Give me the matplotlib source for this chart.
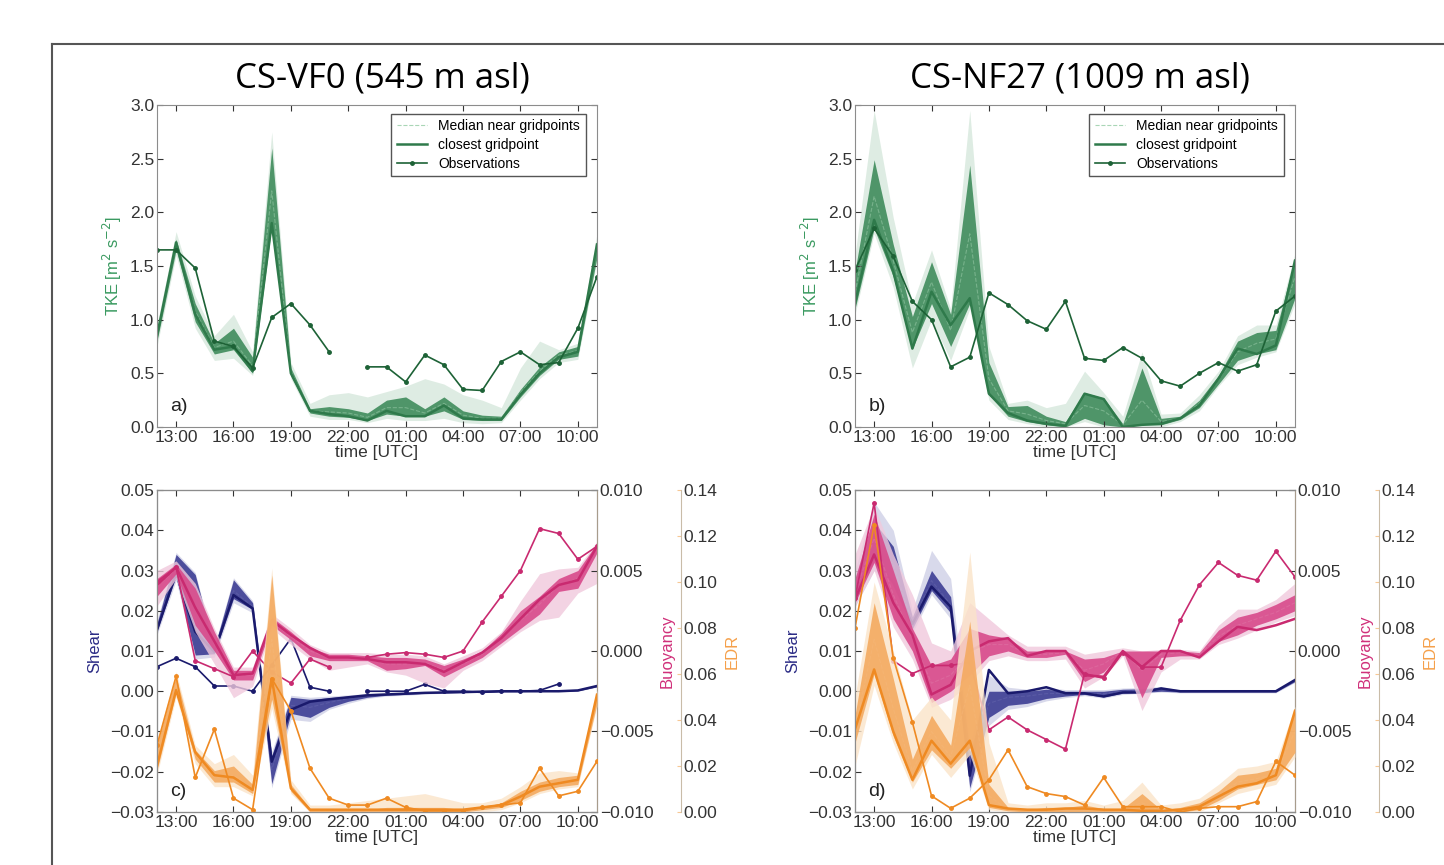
import numpy as np
import matplotlib
matplotlib.use('Agg')
import matplotlib.pyplot as plt
from matplotlib.lines import Line2D
from matplotlib.ticker import FuncFormatter

nan = np.nan
hours = np.arange(24)
tick_hours = [1, 4, 7, 10, 13, 16, 19, 22]
tick_labels = ['13:00', '16:00', '19:00', '22:00', '01:00', '04:00', '07:00', '10:00']

# ---- a) TKE at CS-VF0 ----
tke_a_obs = [1.65, 1.65, 1.48, 0.80, 0.75, 0.55, 1.02, 1.15, 0.95, 0.70, nan, 0.56,
             0.56, 0.42, 0.67, 0.58, 0.35, 0.34, 0.61, 0.70, 0.58, 0.60, 0.92, 1.40]
tke_a_close = [0.85, 1.72, 1.05, 0.72, 0.75, 0.52, 1.90, 0.50, 0.15, 0.12, 0.10, 0.06,
               0.15, 0.10, 0.10, 0.20, 0.08, 0.07, 0.07, 0.30, 0.50, 0.65, 0.70, 1.70]
tke_a_med = [0.85, 1.70, 1.08, 0.74, 0.80, 0.57, 2.20, 0.52, 0.15, 0.14, 0.13, 0.09,
             0.18, 0.18, 0.13, 0.22, 0.11, 0.08, 0.08, 0.32, 0.52, 0.67, 0.71, 1.68]
tke_a_qlo = [0.80, 1.65, 0.98, 0.68, 0.72, 0.50, 1.88, 0.48, 0.13, 0.10, 0.09, 0.06,
             0.12, 0.10, 0.10, 0.15, 0.07, 0.06, 0.06, 0.28, 0.48, 0.63, 0.66, 1.58]
tke_a_qhi = [0.90, 1.75, 1.15, 0.78, 0.92, 0.65, 2.60, 0.55, 0.17, 0.19, 0.17, 0.13,
             0.25, 0.28, 0.17, 0.28, 0.15, 0.11, 0.10, 0.35, 0.56, 0.70, 0.75, 1.75]
tke_a_rlo = [0.75, 1.60, 0.92, 0.62, 0.64, 0.48, 1.85, 0.45, 0.10, 0.07, 0.07, 0.04,
             0.08, 0.06, 0.06, 0.08, 0.04, 0.03, 0.04, 0.25, 0.45, 0.60, 0.63, 1.55]
tke_a_rhi = [0.95, 1.82, 1.22, 0.85, 1.05, 0.70, 2.75, 0.60, 0.22, 0.30, 0.32, 0.28,
             0.33, 0.38, 0.45, 0.40, 0.30, 0.25, 0.18, 0.55, 0.80, 0.72, 0.78, 1.80]

# ---- b) TKE at CS-NF27 ----
tke_b_obs = [1.46, 1.85, 1.59, 1.17, 1.00, 0.56, 0.65, 1.25, 1.14, 0.99, 0.91, 1.17,
             0.64, 0.62, 0.74, 0.64, 0.43, 0.38, 0.50, 0.60, 0.52, 0.58, 1.08, 1.22]
tke_b_close = [1.15, 1.93, 1.45, 0.73, 1.26, 0.95, 1.20, 0.31, 0.13, 0.06, 0.03, 0.01,
               0.31, 0.26, 0.00, 0.02, 0.03, 0.08, 0.20, 0.45, 0.73, 0.68, 0.76, 1.55]
tke_b_med = [1.25, 2.15, 1.55, 0.88, 1.35, 0.90, 1.80, 0.45, 0.15, 0.12, 0.06, 0.03,
             0.20, 0.15, 0.02, 0.25, 0.05, 0.08, 0.22, 0.44, 0.70, 0.78, 0.82, 1.40]
tke_b_qlo = [1.10, 1.85, 1.40, 0.73, 1.15, 0.75, 1.15, 0.30, 0.10, 0.05, 0.02, 0.00,
             0.08, 0.02, 0.00, 0.02, 0.02, 0.07, 0.18, 0.40, 0.62, 0.68, 0.72, 1.20]
tke_b_qhi = [1.45, 2.49, 1.70, 1.03, 1.54, 1.05, 2.44, 0.60, 0.19, 0.20, 0.10, 0.05,
             0.32, 0.27, 0.03, 0.55, 0.08, 0.10, 0.25, 0.48, 0.80, 0.88, 0.90, 1.57]
tke_b_rlo = [1.05, 1.80, 1.30, 0.55, 1.00, 0.62, 1.10, 0.25, 0.07, 0.03, 0.00, 0.00,
             0.05, 0.00, 0.00, 0.00, 0.00, 0.05, 0.15, 0.38, 0.58, 0.65, 0.70, 1.15]
tke_b_rhi = [1.60, 2.95, 1.95, 1.15, 1.65, 1.10, 2.95, 0.75, 0.22, 0.25, 0.18, 0.22,
             0.52, 0.32, 0.10, 0.70, 0.12, 0.13, 0.30, 0.52, 0.85, 0.95, 0.95, 1.62]

# ---- c) shear / buoyancy / EDR at CS-VF0 ----
sh_c_obs = [0.0061, 0.0082, 0.0061, 0.0013, 0.0013, 0.0000, 0.0065, 0.0131, 0.0010, 0.0000, nan, 0.0000,
            0.0000, 0.0000, 0.0017, 0.0000, 0.0000, -0.0003, 0.0000, 0.0000, 0.0002, 0.0018, nan, nan]
sh_c_close = [0.0152, 0.0293, 0.0148, 0.0098, 0.0239, 0.0206, -0.0175, -0.0046, -0.0026, -0.0020, -0.0015, -0.0010,
              -0.0008, -0.0006, -0.0004, -0.0003, -0.0002, -0.0001, 0.0000, 0.0000, 0.0000, 0.0000, 0.0002, 0.0013]
sh_c_med = [0.0158, 0.0310, 0.0180, 0.0100, 0.0250, 0.0210, -0.0195, -0.0035, -0.0040, -0.0028, -0.0018, -0.0011,
            -0.0008, -0.0006, -0.0004, -0.0003, -0.0002, -0.0001, 0.0000, 0.0000, 0.0000, 0.0001, 0.0002, 0.0013]
sh_c_qlo = [0.0150, 0.0285, 0.0090, 0.0093, 0.0230, 0.0203, -0.0230, -0.0055, -0.0065, -0.0040, -0.0025, -0.0015,
            -0.0010, -0.0008, -0.0005, -0.0004, -0.0003, -0.0002, -0.0001, -0.0001, 0.0000, 0.0000, 0.0001, 0.0011]
sh_c_qhi = [0.0168, 0.0340, 0.0290, 0.0108, 0.0277, 0.0220, -0.0160, -0.0015, -0.0020, -0.0016, -0.0012, -0.0008,
            -0.0006, -0.0004, -0.0003, -0.0002, -0.0001, 0.0000, 0.0001, 0.0001, 0.0001, 0.0002, 0.0003, 0.0015]
sh_c_rlo = [0.0140, 0.0275, 0.0080, 0.0085, 0.0220, 0.0195, -0.0240, -0.0070, -0.0075, -0.0045, -0.0030, -0.0018,
            -0.0012, -0.0010, -0.0007, -0.0005, -0.0004, -0.0003, -0.0002, -0.0002, -0.0001, -0.0001, 0.0000, 0.0010]
sh_c_rhi = [0.0175, 0.0345, 0.0295, 0.0112, 0.0282, 0.0225, -0.0150, -0.0010, -0.0015, -0.0012, -0.0009, -0.0006,
            -0.0004, -0.0003, -0.0002, -0.0001, 0.0000, 0.0001, 0.0002, 0.0002, 0.0002, 0.0003, 0.0004, 0.0016]

bu_c_obs = [0.0043, 0.0052, -0.0006, -0.0011, -0.0016, 0.0000, -0.0013, -0.0020, -0.0005, -0.0010, nan, -0.0004,
            -0.0002, -0.0001, -0.0002, -0.0004, 0.0000, 0.0018, 0.0034, 0.0050, 0.0076, 0.0073, 0.0057, 0.0065]
bu_c_close = [0.0041, 0.0052, 0.0027, 0.0006, -0.0015, -0.0014, 0.0019, 0.0010, 0.0002, -0.0004, -0.0004, -0.0005,
              -0.0007, -0.0007, -0.0008, -0.0013, -0.0007, -0.0001, 0.0008, 0.0020, 0.0032, 0.0041, 0.0044, 0.0065]
bu_c_med = [0.0040, 0.0051, 0.0028, 0.0006, -0.0015, -0.0015, 0.0018, 0.0009, 0.0000, -0.0004, -0.0004, -0.0005,
            -0.0008, -0.0008, -0.0007, -0.0012, -0.0008, -0.0002, 0.0008, 0.0019, 0.0029, 0.0041, 0.0045, 0.0064]
bu_c_qlo = [0.0034, 0.0048, 0.0016, 0.0000, -0.0018, -0.0018, 0.0016, 0.0007, -0.0003, -0.0006, -0.0006, -0.0006,
            -0.0012, -0.0011, -0.0009, -0.0016, -0.0010, -0.0004, 0.0005, 0.0014, 0.0023, 0.0037, 0.0039, 0.0061]
bu_c_qhi = [0.0045, 0.0054, 0.0039, 0.0012, -0.0012, -0.0012, 0.0021, 0.0012, 0.0002, -0.0002, -0.0002, -0.0003,
            -0.0004, -0.0004, -0.0005, -0.0009, -0.0005, 0.0000, 0.0011, 0.0025, 0.0034, 0.0045, 0.0050, 0.0067]
bu_c_rlo = [0.0028, 0.0045, 0.0012, -0.0008, -0.0029, -0.0022, 0.0014, 0.0004, -0.0005, -0.0012, -0.0010, -0.0008,
            -0.0013, -0.0015, -0.0020, -0.0023, -0.0012, -0.0006, 0.0003, 0.0012, 0.0019, 0.0021, 0.0036, 0.0042]
bu_c_rhi = [0.0050, 0.0056, 0.0042, 0.0014, -0.0010, -0.0010, 0.0023, 0.0014, 0.0004, -0.0001, -0.0001, -0.0001,
            -0.0002, -0.0002, -0.0003, -0.0008, -0.0003, 0.0002, 0.0012, 0.0031, 0.0048, 0.0051, 0.0052, 0.0068]

ed_c_obs = [0.029, 0.059, 0.015, 0.036, 0.006, 0.001, 0.058, 0.044, 0.019, 0.006, 0.003, 0.003,
            0.006, 0.002, 0.0005, 0.0005, 0.0005, 0.002, 0.003, 0.004, 0.019, 0.007, 0.009, 0.022]
ed_c_close = [0.020, 0.053, 0.026, 0.016, 0.015, 0.0096, 0.058, 0.0103, 0.001, 0.001, 0.001, 0.001,
              0.001, 0.001, 0.001, 0.001, 0.001, 0.002, 0.003, 0.0067, 0.011, 0.0125, 0.014, 0.051]
ed_c_med = [0.022, 0.055, 0.025, 0.015, 0.016, 0.010, 0.075, 0.010, 0.001, 0.0005, 0.0005, 0.0005,
            0.001, 0.001, 0.001, 0.001, 0.0005, 0.0015, 0.003, 0.007, 0.011, 0.013, 0.014, 0.050]
ed_c_qlo = [0.018, 0.052, 0.023, 0.013, 0.013, 0.008, 0.049, 0.009, 0.000, 0.000, 0.000, 0.000,
            0.000, 0.000, 0.000, 0.000, 0.000, 0.001, 0.002, 0.005, 0.009, 0.011, 0.012, 0.047]
ed_c_qhi = [0.029, 0.059, 0.027, 0.018, 0.020, 0.012, 0.103, 0.012, 0.0015, 0.001, 0.001, 0.001,
            0.002, 0.002, 0.002, 0.002, 0.001, 0.002, 0.004, 0.009, 0.013, 0.015, 0.016, 0.052]
ed_c_rlo = [0.016, 0.050, 0.021, 0.011, 0.011, 0.007, 0.045, 0.008, 0.000, 0.000, 0.000, 0.000,
            0.000, 0.000, 0.000, 0.000, 0.000, 0.000, 0.001, 0.004, 0.008, 0.010, 0.011, 0.046]
ed_c_rhi = [0.031, 0.061, 0.029, 0.021, 0.025, 0.016, 0.106, 0.014, 0.003, 0.003, 0.004, 0.005,
            0.006, 0.007, 0.008, 0.006, 0.004, 0.004, 0.006, 0.011, 0.017, 0.018, 0.017, 0.053]

# ---- d) shear / buoyancy / EDR at CS-NF27 ----
sh_d_close = [0.0240, 0.0330, 0.0270, 0.0167, 0.0260, 0.0210, -0.0210, 0.0053, -0.0005, 0.0000, 0.0010, -0.0005,
              -0.0005, -0.0013, -0.0003, -0.0003, 0.0007, 0.0000, 0.0000, 0.0000, 0.0000, 0.0000, 0.0000, 0.0028]
sh_d_med = [0.0250, 0.0380, 0.0315, 0.0170, 0.0275, 0.0215, -0.0180, -0.0030, -0.0015, -0.0012, -0.0006, -0.0005,
            -0.0004, -0.0006, 0.0000, 0.0001, 0.0004, 0.0000, 0.0000, 0.0000, 0.0000, 0.0000, 0.0000, 0.0026]
sh_d_qlo = [0.0220, 0.0330, 0.0270, 0.0155, 0.0250, 0.0195, -0.0240, -0.0065, -0.0035, -0.0030, -0.0018, -0.0012,
            -0.0008, -0.0014, -0.0005, -0.0003, 0.0000, -0.0002, -0.0002, -0.0002, -0.0002, -0.0002, -0.0002, 0.0024]
sh_d_qhi = [0.0280, 0.0420, 0.0360, 0.0185, 0.0300, 0.0235, -0.0150, 0.0000, 0.0000, 0.0000, 0.0005, 0.0000,
            0.0000, 0.0000, 0.0005, 0.0006, 0.0010, 0.0001, 0.0001, 0.0001, 0.0001, 0.0001, 0.0001, 0.0029]
sh_d_rlo = [0.0210, 0.0300, 0.0250, 0.0145, 0.0240, 0.0180, -0.0250, -0.0085, -0.0045, -0.0038, -0.0024, -0.0016,
            -0.0011, -0.0017, -0.0008, -0.0005, -0.0002, -0.0004, -0.0004, -0.0004, -0.0004, -0.0004, -0.0004, 0.0022]
sh_d_rhi = [0.0300, 0.0470, 0.0400, 0.0200, 0.0350, 0.0280, -0.0130, 0.0040, 0.0010, 0.0005, 0.0010, 0.0004,
            0.0004, 0.0004, 0.0008, 0.0009, 0.0012, 0.0003, 0.0003, 0.0003, 0.0003, 0.0003, 0.0003, 0.0031]

bu_d_obs = [0.0033, 0.0092, -0.0006, -0.0014, -0.0009, -0.0009, -0.0007, -0.0049, -0.0041, -0.0049, -0.0055, -0.0061,
            -0.0014, -0.0017, -0.0001, -0.0010, -0.0010, 0.0019, 0.0041, 0.0055, 0.0047, 0.0044, 0.0062, 0.0046]
bu_d_close = [0.0032, 0.0060, 0.0030, 0.0010, -0.0027, -0.0021, 0.0000, 0.0006, 0.0008, -0.0003, 0.0000, 0.0000,
              -0.0015, -0.0016, 0.0000, -0.0010, 0.0000, 0.0000, -0.0004, 0.0006, 0.0015, 0.0013, 0.0016, 0.0020]
bu_d_med = [0.0036, 0.0070, 0.0035, 0.0008, -0.0020, -0.0015, -0.0001, 0.0004, 0.0004, -0.0002, -0.0002, -0.0001,
            -0.0012, -0.0008, 0.0000, -0.0012, -0.0002, -0.0001, -0.0002, 0.0009, 0.0016, 0.0020, 0.0024, 0.0030]
bu_d_qlo = [0.0030, 0.0055, 0.0020, 0.0000, -0.0032, -0.0025, -0.0015, -0.0003, 0.0000, -0.0004, -0.0004, -0.0002,
            -0.0019, -0.0013, 0.0000, -0.0029, -0.0004, -0.0003, -0.0003, 0.0006, 0.0010, 0.0016, 0.0020, 0.0025]
bu_d_qhi = [0.0045, 0.0085, 0.0050, 0.0014, -0.0009, -0.0005, 0.0014, 0.0010, 0.0008, 0.0000, 0.0000, 0.0000,
            -0.0005, -0.0004, 0.0000, 0.0000, 0.0000, 0.0000, -0.0001, 0.0013, 0.0021, 0.0024, 0.0029, 0.0035]
bu_d_rlo = [0.0028, 0.0050, 0.0015, -0.0005, -0.0035, -0.0030, -0.0020, -0.0006, -0.0003, -0.0006, -0.0006, -0.0005,
            -0.0023, -0.0016, -0.0003, -0.0037, -0.0013, -0.0005, -0.0005, 0.0004, 0.0008, 0.0013, 0.0018, 0.0022]
bu_d_rhi = [0.0060, 0.0090, 0.0060, 0.0035, 0.0005, 0.0000, 0.0030, 0.0020, 0.0010, 0.0003, 0.0003, 0.0003,
            -0.0002, 0.0000, 0.0002, 0.0000, 0.0001, 0.0001, 0.0000, 0.0016, 0.0026, 0.0026, 0.0032, 0.0042]

ed_d_obs = [0.080, 0.125, 0.067, 0.039, 0.007, 0.0016, 0.006, 0.014, 0.027, 0.011, 0.008, 0.0067,
            0.003, 0.015, 0.0023, 0.0023, 0.0023, 0.000, 0.0016, 0.0023, 0.0023, 0.0045, 0.022, 0.016]
ed_d_close = [0.036, 0.062, 0.035, 0.014, 0.031, 0.021, 0.031, 0.003, 0.0015, 0.001, 0.001, 0.0015,
              0.0015, 0.001, 0.001, 0.0005, 0.0005, 0.001, 0.0023, 0.0067, 0.011, 0.0125, 0.016, 0.044]
ed_d_med = [0.036, 0.075, 0.045, 0.018, 0.035, 0.024, 0.055, 0.007, 0.001, 0.0005, 0.001, 0.001,
            0.0015, 0.001, 0.001, 0.004, 0.0005, 0.001, 0.0025, 0.007, 0.013, 0.0145, 0.0165, 0.035]
ed_d_qlo = [0.030, 0.060, 0.033, 0.013, 0.027, 0.019, 0.028, 0.002, 0.0005, 0.000, 0.000, 0.000,
            0.000, 0.000, 0.000, 0.000, 0.000, 0.000, 0.001, 0.005, 0.010, 0.012, 0.014, 0.026]
ed_d_qhi = [0.042, 0.091, 0.058, 0.023, 0.042, 0.029, 0.083, 0.012, 0.002, 0.001, 0.002, 0.002,
            0.003, 0.0015, 0.0015, 0.008, 0.001, 0.002, 0.004, 0.009, 0.016, 0.017, 0.019, 0.044]
ed_d_rlo = [0.020, 0.055, 0.030, 0.010, 0.025, 0.015, 0.025, 0.001, 0.000, 0.000, 0.000, 0.000,
            0.000, 0.000, 0.000, 0.000, 0.000, 0.000, 0.000, 0.004, 0.008, 0.010, 0.012, 0.024]
ed_d_rhi = [0.050, 0.100, 0.070, 0.040, 0.050, 0.040, 0.113, 0.030, 0.004, 0.003, 0.004, 0.004,
            0.005, 0.003, 0.005, 0.013, 0.003, 0.004, 0.006, 0.012, 0.019, 0.020, 0.022, 0.046]

# colours: (line, dark band, light band, median)
GREEN = ('#1d6236', '#3f8c5c', '#d6e8dc', '#a9d6b6')
NAVY = ('#1a1a6c', '#3d3e94', '#cfd0e6', '#6a6bb0')
MAGENTA = ('#c92a70', '#d84a8b', '#f0c9dc', '#e07aa8')
ORANGE = ('#ef8a22', '#f4aa60', '#fbe4c9', '#f6b87a')

plt.rcParams['font.family'] = ['Liberation Sans', 'DejaVu Sans']
TICK_COL = '#333333'
SPINE_COL = '#8c8c8c'
TICK_SIZE = 12.5


def draw_var(ax, cols, close, med, qlo, qhi, rlo, rhi, obs=None):
    line_c, band_c, light_c, med_c = cols
    ax.fill_between(hours, rlo, rhi, color=light_c, lw=0, alpha=0.8)
    ax.fill_between(hours, qlo, qhi, color=band_c, lw=0, alpha=0.9)
    h_med, = ax.plot(hours, med, '--', color=med_c, lw=0.8, alpha=0.45)
    h_close, = ax.plot(hours, close, '-', color=line_c, lw=1.8)
    h_obs = None
    if obs is not None:
        h_obs, = ax.plot(hours, obs, '-o', color=line_c, lw=1.2, ms=2.5)
    return h_med, h_close, h_obs


def style_axis(ax):
    ax.set_xlim(0, 23)
    ax.set_xticks(tick_hours)
    ax.set_xticklabels(tick_labels)
    ax.tick_params(direction='in', length=4, width=0.8, colors=TICK_COL,
                   labelsize=TICK_SIZE, pad=2)
    ax.tick_params(axis='x', top=True)
    for sp in ax.spines.values():
        sp.set_color(SPINE_COL)
    ax.set_xlabel('time [UTC]', fontsize=12.5, color=TICK_COL, labelpad=0)


fig = plt.figure(figsize=(14.44, 8.65), dpi=100)

# slide frame
fig.add_artist(Line2D([0.036, 1.0], [0.9486, 0.9486], transform=fig.transFigure,
                      color='#555555', lw=1.5))
fig.add_artist(Line2D([0.036, 0.036], [0.0, 0.9486], transform=fig.transFigure,
                      color='#555555', lw=1.5))

fig.text(0.265, 0.909, 'CS-VF0 (545 m asl)', ha='center', va='center',
         fontsize=25, family='Open Sans')
fig.text(0.748, 0.909, 'CS-NF27 (1009 m asl)', ha='center', va='center',
         fontsize=25, family='Open Sans')

lefts = [0.1087, 0.5921]
top_panels = [
    (tke_a_obs, tke_a_close, tke_a_med, tke_a_qlo, tke_a_qhi, tke_a_rlo, tke_a_rhi, 'a)'),
    (tke_b_obs, tke_b_close, tke_b_med, tke_b_qlo, tke_b_qhi, tke_b_rlo, tke_b_rhi, 'b)'),
]
for left, (obs, close, med, qlo, qhi, rlo, rhi, tag) in zip(lefts, top_panels):
    ax = fig.add_axes([left, 0.5064, 0.3047, 0.3722])
    h_med, h_close, h_obs = draw_var(ax, GREEN, close, med, qlo, qhi, rlo, rhi, obs)
    h_close.set_color('#2f7a4b')
    style_axis(ax)
    ax.tick_params(axis='y', right=True)
    ax.set_ylim(0, 3.0)
    ax.set_yticks(np.arange(0, 3.01, 0.5))
    ax.yaxis.set_major_formatter(FuncFormatter(lambda v, p: '%.1f' % v))
    ax.set_ylabel('TKE [m$^2$ s$^{-2}$]', fontsize=12, color='#3a9a60')
    ax.yaxis.set_label_coords(-0.075, 0.5)
    ax.text(0.03, 0.05, tag, transform=ax.transAxes, fontsize=14, color='#222222')
    leg = ax.legend([h_med, h_close, h_obs],
                    ['Median near gridpoints', 'closest gridpoint', 'Observations'],
                    loc='upper right', fontsize=10, fancybox=False, framealpha=1,
                    edgecolor='#555555', handlelength=2.2, borderpad=0.4,
                    labelspacing=0.35, bbox_to_anchor=(0.99, 0.995))
    leg.get_frame().set_linewidth(1.0)
    leg.get_lines()[0].set_alpha(1.0)

bottom_panels = [
    (dict(obs=sh_c_obs, close=sh_c_close, med=sh_c_med, qlo=sh_c_qlo, qhi=sh_c_qhi, rlo=sh_c_rlo, rhi=sh_c_rhi),
     dict(obs=bu_c_obs, close=bu_c_close, med=bu_c_med, qlo=bu_c_qlo, qhi=bu_c_qhi, rlo=bu_c_rlo, rhi=bu_c_rhi),
     dict(obs=ed_c_obs, close=ed_c_close, med=ed_c_med, qlo=ed_c_qlo, qhi=ed_c_qhi, rlo=ed_c_rlo, rhi=ed_c_rhi),
     'c)'),
    (dict(obs=None, close=sh_d_close, med=sh_d_med, qlo=sh_d_qlo, qhi=sh_d_qhi, rlo=sh_d_rlo, rhi=sh_d_rhi),
     dict(obs=bu_d_obs, close=bu_d_close, med=bu_d_med, qlo=bu_d_qlo, qhi=bu_d_qhi, rlo=bu_d_rlo, rhi=bu_d_rhi),
     dict(obs=ed_d_obs, close=ed_d_close, med=ed_d_med, qlo=ed_d_qlo, qhi=ed_d_qhi, rlo=ed_d_rlo, rhi=ed_d_rhi),
     'd)'),
]
for left, (sh, bu, ed, tag) in zip(lefts, bottom_panels):
    ax = fig.add_axes([left, 0.0613, 0.3047, 0.3722])
    ax_b = ax.twinx()
    ax_e = ax.twinx()
    ax_e.spines['right'].set_position(('axes', 1.19))

    draw_var(ax, NAVY, **sh)
    draw_var(ax_b, MAGENTA, **bu)
    draw_var(ax_e, ORANGE, **ed)

    style_axis(ax)
    ax.set_ylim(-0.03, 0.05)
    ax.set_yticks(np.arange(-0.03, 0.0501, 0.01))
    ax.yaxis.set_major_formatter(FuncFormatter(lambda v, p: ('%.2f' % v).replace('-', '\u2212')))
    ax.set_ylabel('Shear', fontsize=12, color='#2b2b85')
    ax.yaxis.set_label_coords(-0.125, 0.5)
    ax.text(0.03, 0.05, tag, transform=ax.transAxes, fontsize=14, color='#222222')

    for a in (ax_b, ax_e):
        a.tick_params(direction='in', length=4, width=0.8, colors=TICK_COL,
                      labelsize=TICK_SIZE, pad=2)
        for sp in a.spines.values():
            sp.set_color(SPINE_COL)
    ax_e.tick_params(axis='y', color='#f7c894', length=3)
    ax_e.spines['right'].set_color('#c9bca8')
    ax_b.spines['right'].set_color('#a89c8c')

    ax_b.set_ylim(-0.010, 0.010)
    ax_b.set_yticks(np.arange(-0.010, 0.0101, 0.005))
    ax_b.yaxis.set_major_formatter(FuncFormatter(lambda v, p: ('%.3f' % v).replace('-', '\u2212')))
    ax_b.set_ylabel('Buoyancy', fontsize=12, color='#d0307a')
    ax_b.yaxis.set_label_coords(1.143, 0.5)

    ax_e.set_ylim(0, 0.14)
    ax_e.set_yticks(np.arange(0, 0.1401, 0.02))
    ax_e.yaxis.set_major_formatter(FuncFormatter(lambda v, p: '%.2f' % v))
    ax_e.set_ylabel('EDR', fontsize=12, color='#f5a04a')
    ax_e.yaxis.set_label_coords(1.29, 0.5)

fig.savefig('out.png', dpi=100)
